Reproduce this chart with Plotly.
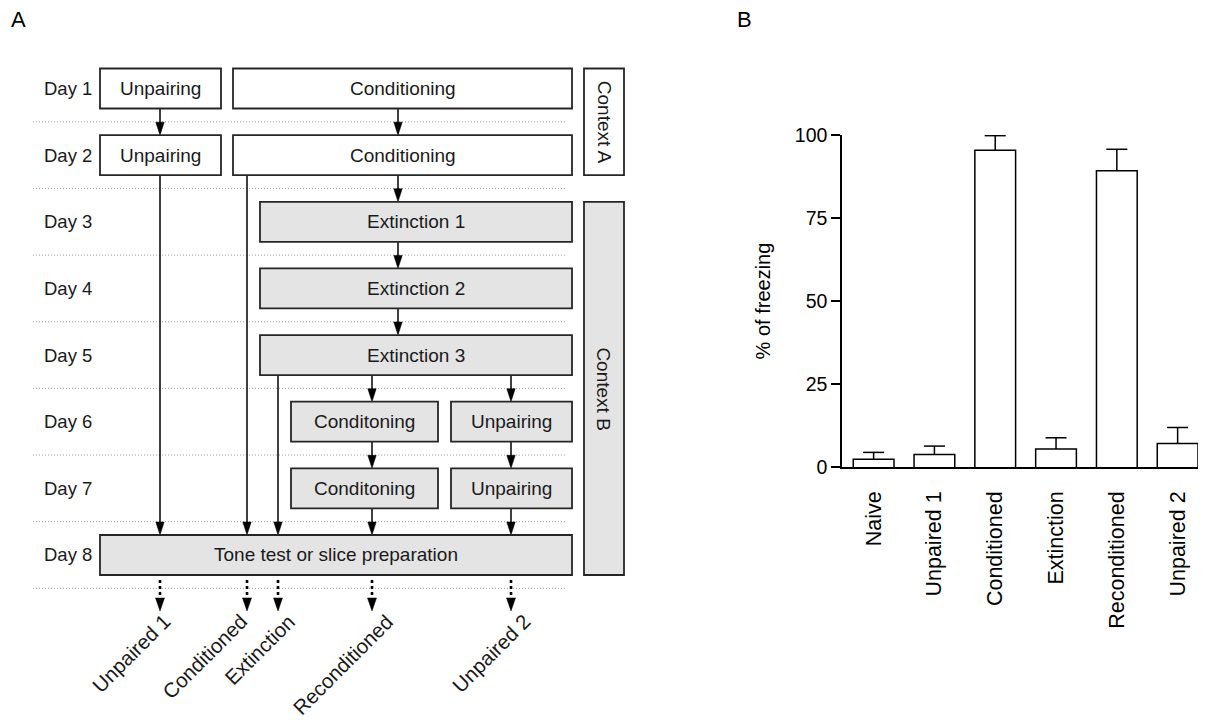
import plotly.graph_objects as go

# ---------------- data ----------------
groups = ["Naive", "Unpaired 1", "Conditioned", "Extinction", "Reconditioned", "Unpaired 2"]
freezing_mean = [2.3, 3.8, 95.4, 5.4, 89.2, 7.1]
freezing_sem = [2.1, 2.5, 4.4, 3.4, 6.5, 4.8]
y_ticks = [0, 25, 50, 75, 100]

days = ["Day 1", "Day 2", "Day 3", "Day 4", "Day 5", "Day 6", "Day 7", "Day 8"]
# (day index 1..8, label, lane)
protocol_steps = [
    (1, "Unpairing", "unp1"), (1, "Conditioning", "cond"),
    (2, "Unpairing", "unp1"), (2, "Conditioning", "cond"),
    (3, "Extinction 1", "ext"), (4, "Extinction 2", "ext"), (5, "Extinction 3", "ext"),
    (6, "Conditoning", "recond"), (6, "Unpairing", "unp2"),
    (7, "Conditoning", "recond"), (7, "Unpairing", "unp2"),
    (8, "Tone test or slice preparation", "final"),
]
contexts = [("Context A", 1, 2), ("Context B", 3, 8)]
# (from day, to day, track)
transitions = [
    (1, 2, "unpaired1"), (1, 2, "main"), (2, 3, "main"), (3, 4, "main"), (4, 5, "main"),
    (5, 6, "recond"), (5, 6, "unpaired2"), (6, 7, "recond"), (6, 7, "unpaired2"),
    (7, 8, "recond"), (7, 8, "unpaired2"),
    (2, 8, "unpaired1"), (2, 8, "conditioned"), (5, 8, "extinction"),
]
outputs = ["Unpaired 1", "Conditioned", "Extinction", "Reconditioned", "Unpaired 2"]
output_tracks = ["unpaired1", "conditioned", "extinction", "recond", "unpaired2"]

# ---------------- layout / style constants ----------------
W, H = 1205, 720
FONT = "Liberation Sans, Arial, Helvetica, sans-serif"
TXT = "#1a1a1a"
ROW0, ROW_STEP, BOX_H = 88.5, 66.64, 40
LANES = {"unp1": (100, 221), "cond": (233, 572), "ext": (260, 572),
         "recond": (291, 438), "unp2": (451, 572), "final": (100, 572)}
TRACK_X = {"unpaired1": 160, "conditioned": 247, "extinction": 278, "main": 398,
           "recond": 372, "unpaired2": 511}
LABEL_DX = {"unpaired1": 17, "conditioned": 7, "extinction": 24, "recond": 28, "unpaired2": 26}
LABEL_TOP = 607
CTX_X = (584, 624)
GRAY = "#e4e4e4"
EDGE = "#262626"
BOX_LW = 1.8
BAR_W = 0.67
CAP_HALF = 0.173


def day_y(d):
    return ROW0 + (d - 1) * ROW_STEP


fig = go.Figure()

# ---------------- panel B: bar chart ----------------
xs = list(range(len(groups)))
fig.add_trace(go.Bar(
    x=xs, y=freezing_mean, width=BAR_W,
    marker=dict(color="white", line=dict(width=0)),
    xaxis="x", yaxis="y", showlegend=False, hoverinfo="skip",
))
# bar outlines (open at the baseline, which is the x axis line)
ox, oy = [], []
for xi, m in zip(xs, freezing_mean):
    ox += [xi - BAR_W / 2, xi - BAR_W / 2, xi + BAR_W / 2, xi + BAR_W / 2, None]
    oy += [0, m, m, 0, None]
fig.add_trace(go.Scatter(x=ox, y=oy, mode="lines", line=dict(color="black", width=1.5),
                         xaxis="x", yaxis="y", showlegend=False, hoverinfo="skip",
                         cliponaxis=False))
# SEM error bars (upper only)
ex, ey = [], []
for xi, m, e in zip(xs, freezing_mean, freezing_sem):
    ex += [xi, xi, None, xi - CAP_HALF, xi + CAP_HALF, None]
    ey += [m, m + e, None, m + e, m + e, None]
fig.add_trace(go.Scatter(x=ex, y=ey, mode="lines", line=dict(color="black", width=1.5),
                         xaxis="x", yaxis="y", showlegend=False, hoverinfo="skip",
                         cliponaxis=False))

# ---------------- panel A: diagram ----------------
# separators
sx, sy = [], []
for d in range(1, len(days) + 1):
    yy = day_y(d) + ROW_STEP / 2
    sx += [33, 567, None]
    sy += [yy, yy, None]
fig.add_trace(go.Scatter(x=sx, y=sy, mode="lines", xaxis="x2", yaxis="y2",
                         line=dict(color="#a0a0a0", width=1, dash="1px,2px"),
                         showlegend=False, hoverinfo="skip"))

# solid flow lines + arrowheads
lx, ly, tx, ty = [], [], [], []
for d0, d1, tr in transitions:
    x = TRACK_X[tr]
    y0 = day_y(d0) + BOX_H / 2
    y1 = day_y(d1) - BOX_H / 2
    lx += [x, x, None]
    ly += [y0, y1 - 6, None]
    tx += [x - 4.2, x + 4.2, x, x - 4.2, None]
    ty += [y1 - 13, y1 - 13, y1, y1 - 13, None]
fig.add_trace(go.Scatter(x=lx, y=ly, mode="lines", xaxis="x2", yaxis="y2",
                         line=dict(color="black", width=1.5),
                         showlegend=False, hoverinfo="skip"))

# dashed output arrows
dx_, dy_ = [], []
y_end = day_y(8) + BOX_H / 2
for tr in output_tracks:
    x = TRACK_X[tr]
    dx_ += [x, x, None]
    dy_ += [y_end + 5, y_end + 24, None]
    tx += [x - 4.5, x + 4.5, x, x - 4.5, None]
    ty += [y_end + 23, y_end + 23, y_end + 36, y_end + 23, None]
fig.add_trace(go.Scatter(x=dx_, y=dy_, mode="lines", xaxis="x2", yaxis="y2",
                         line=dict(color="black", width=2.6, dash="3px,3px"),
                         showlegend=False, hoverinfo="skip"))
fig.add_trace(go.Scatter(x=tx, y=ty, mode="lines", fill="toself", fillcolor="black",
                         xaxis="x2", yaxis="y2", line=dict(color="black", width=0.5),
                         showlegend=False, hoverinfo="skip"))

shapes = []
annotations = []


def context_of(d):
    for name, a, b in contexts:
        if a <= d <= b:
            return name
    return None


for d, label, lane in protocol_steps:
    x0, x1 = LANES[lane]
    yc = day_y(d)
    filled = context_of(d) == contexts[1][0]
    shapes.append(dict(type="rect", xref="x2", yref="y2", x0=x0, x1=x1,
                       y0=yc - BOX_H / 2, y1=yc + BOX_H / 2,
                       fillcolor=GRAY if filled else "white",
                       line=dict(color=EDGE, width=BOX_LW), layer="above"))
    annotations.append(dict(x=(x0 + x1) / 2, y=yc, xref="x2", yref="y2", text=label,
                            showarrow=False, font=dict(family=FONT, size=19, color=TXT)))

for i, dname in enumerate(days):
    annotations.append(dict(x=42, y=day_y(i + 1), xref="x2", yref="y2", text=dname,
                            xanchor="left", showarrow=False,
                            font=dict(family=FONT, size=18.5, color=TXT)))

for k, (name, a, b) in enumerate(contexts):
    y0 = day_y(a) - BOX_H / 2
    y1 = day_y(b) + BOX_H / 2
    shapes.append(dict(type="rect", xref="x2", yref="y2", x0=CTX_X[0], x1=CTX_X[1],
                       y0=y0, y1=y1, fillcolor=GRAY if k == 1 else "white",
                       line=dict(color=EDGE, width=BOX_LW), layer="above"))
    annotations.append(dict(x=sum(CTX_X) / 2, y=(y0 + y1) / 2, xref="x2", yref="y2",
                            text=name, textangle=90, showarrow=False,
                            font=dict(family=FONT, size=19, color=TXT)))

for lab, tr in zip(outputs, output_tracks):
    annotations.append(dict(x=TRACK_X[tr] + LABEL_DX[tr], y=LABEL_TOP, xref="x2", yref="y2",
                            text=lab, textangle=-45, xanchor="right", yanchor="top",
                            showarrow=False, font=dict(family=FONT, size=20.5, color=TXT)))

# panel letters
annotations.append(dict(x=18, y=19, xref="x2", yref="y2", text="A", showarrow=False,
                        font=dict(family=FONT, size=22, color="black")))
annotations.append(dict(x=744, y=19, xref="x2", yref="y2", text="B", showarrow=False,
                        font=dict(family=FONT, size=22, color="black")))

fig.update_layout(
    width=W, height=H, margin=dict(l=0, r=0, t=0, b=0, pad=0), autosize=False,
    paper_bgcolor="white", plot_bgcolor="rgba(0,0,0,0)",
    font=dict(family=FONT, color="black"),
    shapes=shapes, annotations=annotations, bargap=0,
    xaxis=dict(domain=[842 / W, 1198 / W], range=[-0.52, 5.335], anchor="y",
               tickvals=xs, ticktext=groups, tickangle=-90,
               ticks="", showline=True, linecolor="black", linewidth=1.5,
               showgrid=False, zeroline=False, ticklabelstandoff=14, automargin=False,
               tickfont=dict(family=FONT, size=21.5, color="black"), fixedrange=True),
    yaxis=dict(domain=[1 - 467 / H, 1 - 135 / H], range=[0, 100], anchor="x",
               tickvals=y_ticks, ticks="outside", ticklen=9, tickwidth=1.5,
               tickcolor="black", showline=True, linecolor="black", linewidth=1.5,
               showgrid=False, zeroline=False, automargin=False,
               tickfont=dict(family=FONT, size=19.5, color="black"),
               title=dict(text="% of freezing", standoff=19,
                          font=dict(family=FONT, size=20, color="black")),
               fixedrange=True),
    xaxis2=dict(domain=[0, 1], range=[0, W], anchor="y2", visible=False,
                fixedrange=True, automargin=False),
    yaxis2=dict(domain=[0, 1], range=[H, 0], anchor="x2", visible=False,
                fixedrange=True, automargin=False),
)

fig.write_html("out.html")
